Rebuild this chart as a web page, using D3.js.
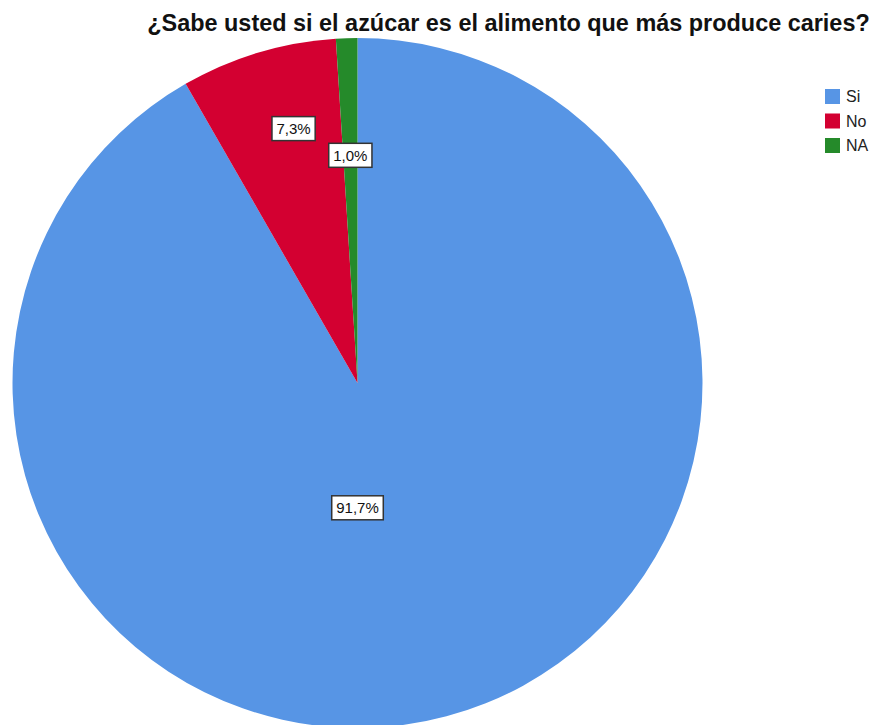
<!DOCTYPE html>
<html>
<head>
<meta charset="utf-8">
<script src="https://cdn.jsdelivr.net/npm/d3@7"></script>
<style>
  html, body { margin: 0; padding: 0; background: #fff; }
  svg { display: block; font-family: "Liberation Sans", Arial, sans-serif; }
</style>
</head>
<body>
<svg id="chart" width="875" height="725"></svg>
<script>
// Survey answers and their shares (percent)
const categories = ["Si", "No", "NA"];
const percents = [91.7, 7.3, 1.0];
const labels = ["91,7%", "7,3%", "1,0%"];
const colors = ["#5795e5", "#d30031", "#258a2a"];
const title = "¿Sabe usted si el azúcar es el alimento que más produce caries?";

const svg = d3.select("#chart");
const cx = 357.5, cy = 383, R = 345;

const data = categories.map((c, i) => ({ cat: c, value: percents[i], label: labels[i], color: colors[i] }));

const pie = d3.pie().sort(null).value(d => d.value);
const arcs = pie(data);
const arc = d3.arc().innerRadius(0).outerRadius(R);

const g = svg.append("g").attr("transform", `translate(${cx},${cy})`);
g.selectAll("path.slice")
  .data(arcs)
  .join("path")
  .attr("class", "slice")
  .attr("d", arc)
  .attr("fill", d => d.data.color);

// Slice labels: the large slice's label sits below the centre,
// the small ones inside their wedge near the rim
function labelPos(d, i) {
  if (i === 0) return [0, R * 0.362];
  const frac = i === 1 ? 0.6 : 0.5;
  const a = d.startAngle + frac * (d.endAngle - d.startAngle);
  const rr = i === 1 ? R * 0.76 : R * 0.66;
  return [Math.sin(a) * rr, -Math.cos(a) * rr];
}

const lab = g.selectAll("g.lab")
  .data(arcs)
  .join("g")
  .attr("class", "lab")
  .attr("transform", (d, i) => { const p = labelPos(d, i); return `translate(${p[0]},${p[1]})`; });

lab.each(function(d) {
  const sel = d3.select(this);
  const rect = sel.append("rect");
  const t = sel.append("text")
    .attr("text-anchor", "middle")
    .attr("dy", "0.36em")
    .attr("font-size", 15)
    .attr("fill", "#111")
    .text(d.data.label);
  const bb = t.node().getBBox();
  const padX = 4.5, padY = 3.5;
  rect.attr("x", bb.x - padX)
    .attr("y", bb.y - padY)
    .attr("width", bb.width + padX * 2)
    .attr("height", bb.height + padY * 2)
    .attr("fill", "#fff")
    .attr("stroke", "#333")
    .attr("stroke-width", 1.5);
});

// Title
const tt = svg.append("text")
  .attr("x", 508.5)
  .attr("y", 31)
  .attr("text-anchor", "middle")
  .attr("font-size", 20)
  .attr("font-weight", "bold")
  .attr("fill", "#111")
  .text(title);
const tw = tt.node().getComputedTextLength();
tt.attr("font-size", 20 * 723 / tw);

// Legend
const legend = svg.append("g").attr("transform", "translate(825,89)");
const row = legend.selectAll("g")
  .data(data)
  .join("g")
  .attr("transform", (d, i) => `translate(0,${i * 24.5})`);
row.append("rect")
  .attr("width", 15)
  .attr("height", 15)
  .attr("fill", d => d.color);
row.append("text")
  .attr("x", 21)
  .attr("y", 7.5)
  .attr("dy", "0.36em")
  .attr("font-size", 16)
  .attr("fill", "#222")
  .text(d => d.cat);
</script>
</body>
</html>
